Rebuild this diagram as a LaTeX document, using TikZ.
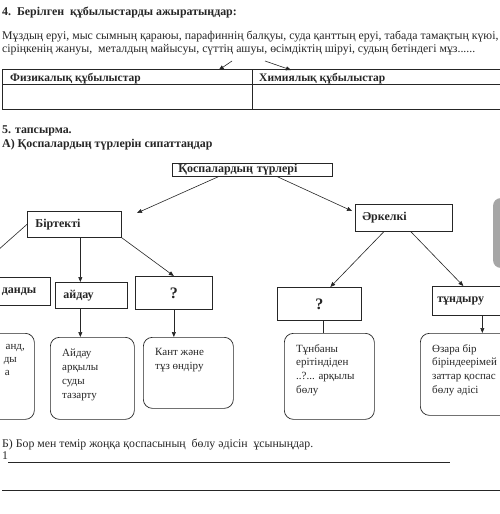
\documentclass[tikz,border=0pt]{standalone}
\usepackage{fontspec}
\setmainfont{Liberation Serif}
\usetikzlibrary{arrows.meta}
\colorlet{lgray}{gray!70}
\colorlet{ink}{black!85}
\newcommand{\rtxt}{\fontsize{11}{13}\selectfont}
\newcommand{\ptxt}{\fontsize{11.8}{13}\selectfont}
\newcommand{\btxt}{\fontsize{11.5}{13}\selectfont\bfseries}
\newcommand{\htxt}{\fontsize{11.9}{13}\selectfont\bfseries}
\newcommand{\gapq}{..?...}
\tikzset{
  txt/.style={anchor=base west, inner sep=0pt, text=ink},
  cell/.style={draw=ink, line width=0.8pt, anchor=north west, inner sep=0pt},
  sqbox/.style={draw=ink, line width=0.7pt, anchor=north west, inner ysep=0pt, align=left, text=ink,
    font=\fontsize{12}{14}\selectfont\bfseries},
  rbox/.style={draw=ink, line width=0.7pt, anchor=north west, inner sep=0pt, rounded corners=9pt},
  arr/.style={draw=ink, line width=0.6pt, -{Triangle[length=5pt,width=4pt]}},
  link/.style={draw=ink, line width=0.6pt},
}
\begin{document}
\begin{tikzpicture}[x=1pt,y=-1pt]
\useasboundingbox (0,0) rectangle (500,514);
\clip (0,0) rectangle (500,514);
\fill[white] (0,0) rectangle (500,514);
% task 4
\node[txt, font=\htxt] (t4) at (2,15) {4.\ \ Берілген\ \ құбылыстарды ажыратыңдар:};
\node[txt, font=\ptxt] (p1) at (2,39) {Мұздың еруі, мыс сымның қараюы, парафиннің балқуы, суда қанттың еруі, табада тамақтың күюі,};
\node[txt, font=\ptxt] (p2) at (2,52) {сіріңкенің жануы,\ \ металдың майысуы, сүттің ашуы, өсімдіктің шіруі, судың бетіндегі мұз......};
% table
\node[cell, minimum width=250pt, minimum height=15pt] (phys) at (2,69) {};
\node[cell, minimum width=248pt, minimum height=15pt] (chem) at (252,69) {};
\node[cell, minimum width=250pt, minimum height=25pt] (physb) at (2,84) {};
\node[cell, minimum width=248pt, minimum height=25pt] (chemb) at (252,84) {};
\node[txt, font=\btxt] (physh) at (10,81) {Физикалық құбылыстар};
\node[txt, font=\btxt] (chemh) at (259,81) {Химиялық құбылыстар};
\coordinate (fromL) at (232,61);
\coordinate (fromR) at (265,61);
\draw[arr] (fromL) -- ([xshift=-34pt,yshift=-1pt]phys.north east);
\draw[arr] (fromR) -- ([xshift=39pt,yshift=-1pt]chem.north west);
% task 5
\node[txt, font=\htxt] (t5) at (2,133) {5. тапсырма.};
\node[txt, font=\htxt] (t5a) at (2,147) {А) Қоспалардың түрлерін сипаттаңдар};
% the tree
\node[sqbox, minimum width=160pt, minimum height=13pt, text width=148pt, inner xsep=6pt] (root) at (172,163) {Қоспалардың түрлері};
\node[sqbox, minimum width=94pt, minimum height=26pt, text width=78pt, inner xsep=8pt] (birtekti) at (27,211) {Біртекті};
\node[sqbox, minimum width=97pt, minimum height=27pt, text width=83pt, inner xsep=7pt] (arkelki) at (355,204) {Әркелкі};
\node[sqbox, minimum width=100pt, minimum height=28pt, text width=72pt, inner xsep=14pt, align=right] (dandy) at (-50,277) {данды};
\node[sqbox, minimum width=72pt, minimum height=26pt, text width=56pt, inner xsep=8pt] (aidau) at (55,282) {айдау};
\node[sqbox, minimum width=77pt, minimum height=33pt, text width=77pt, inner xsep=0pt, align=center,
  font=\fontsize{16}{18}\selectfont\bfseries] (q1) at (135,276) {?};
\node[sqbox, minimum width=84pt, minimum height=33pt, text width=84pt, inner xsep=0pt, align=center,
  font=\fontsize{16}{18}\selectfont\bfseries] (q2) at (277,287) {?};
\node[sqbox, minimum width=90pt, minimum height=29pt, text width=80pt, inner xsep=5pt] (tundyru) at (432,286) {тұндыру};
% rounded boxes
\node[rbox, minimum width=84pt, minimum height=86pt] (r1) at (-50,333) {};
\node[rbox, minimum width=84pt, minimum height=82pt] (r2) at (50,337) {};
\node[rbox, minimum width=90pt, minimum height=71pt] (r3) at (143,337) {};
\node[rbox, minimum width=90pt, minimum height=86pt] (r4) at (284,333) {};
\node[rbox, minimum width=100pt, minimum height=82pt] (r5) at (420,333) {};
\node[txt, anchor=base east, font=\rtxt] (r1l1) at (25,349) {анд,};
\node[txt, anchor=base east, font=\rtxt] (r1l2) at (17,362) {ды};
\node[txt, anchor=base east, font=\rtxt] (r1l3) at (10,375) {а};
\foreach \ln [count=\i] in {Айдау, арқылы, суды, тазарту}
  \node[txt, font=\rtxt] (r2l\i) at (62,{356+14*(\i-1)}) {\ln};
\foreach \ln [count=\i] in {Кант және, тұз өндіру}
  \node[txt, font=\rtxt] (r3l\i) at (155,{355+14*(\i-1)}) {\ln};
\foreach \ln [count=\i] in {Тұнбаны, ерітіндіден, \gapq{} арқылы, бөлу}
  \node[txt, font=\rtxt] (r4l\i) at (296,{352+13.7*(\i-1)}) {\ln};
\foreach \ln [count=\i] in {Өзара бір, біріндеерімей, заттар қоспас, бөлу әдісі}
  \node[txt, font=\rtxt] (r5l\i) at (432,{352+13.7*(\i-1)}) {\ln};
% connectors
\coordinate (btin) at (137,213);
\coordinate (arin) at (352,211);
\coordinate (offL) at (-3,251);
\draw[arr] ([xshift=-34pt]root.south) -- (btin);
\draw[arr] ([xshift=25pt]root.south) -- (arin);
\draw[link] (birtekti.west) -- (offL);
\draw[arr] ([xshift=6pt]birtekti.south) -- ([xshift=6pt]birtekti.south |- aidau.north);
\draw[arr] (birtekti.south east) -- (q1.north);
\draw[arr] ([xshift=-11pt]aidau.south) -- ([xshift=-11pt]aidau.south |- r2.north);
\draw[arr] (q1.south) -- (q1.south |- r3.north);
\draw[arr] ([xshift=-20pt]arkelki.south) -- ([xshift=11pt]q2.north);
\draw[arr] ([xshift=7pt]arkelki.south) -- ([xshift=-14pt]tundyru.north);
\draw[link] ([xshift=4pt]q2.south) -- ([xshift=4pt]q2.south |- r4.north);
\draw[arr] ([xshift=5pt]tundyru.south) -- ([xshift=5pt]tundyru.south |- r5.north);
% grey shape at the edge
\fill[lgray, rounded corners=8pt] (493,198) rectangle (540,268);
% part B
\node[txt, font=\ptxt] (tb) at (2,447) {Б) Бор мен темір жоңқа қоспасының\ \ бөлу әдісін\ \ ұсыныңдар.};
\node[txt, font=\ptxt] (one) at (2,459) {1};
\draw[ink, line width=0.8pt] (8,462) -- (450,462);
\draw[ink, line width=0.8pt] (2,490) -- (500,490);
\end{tikzpicture}
\end{document}
